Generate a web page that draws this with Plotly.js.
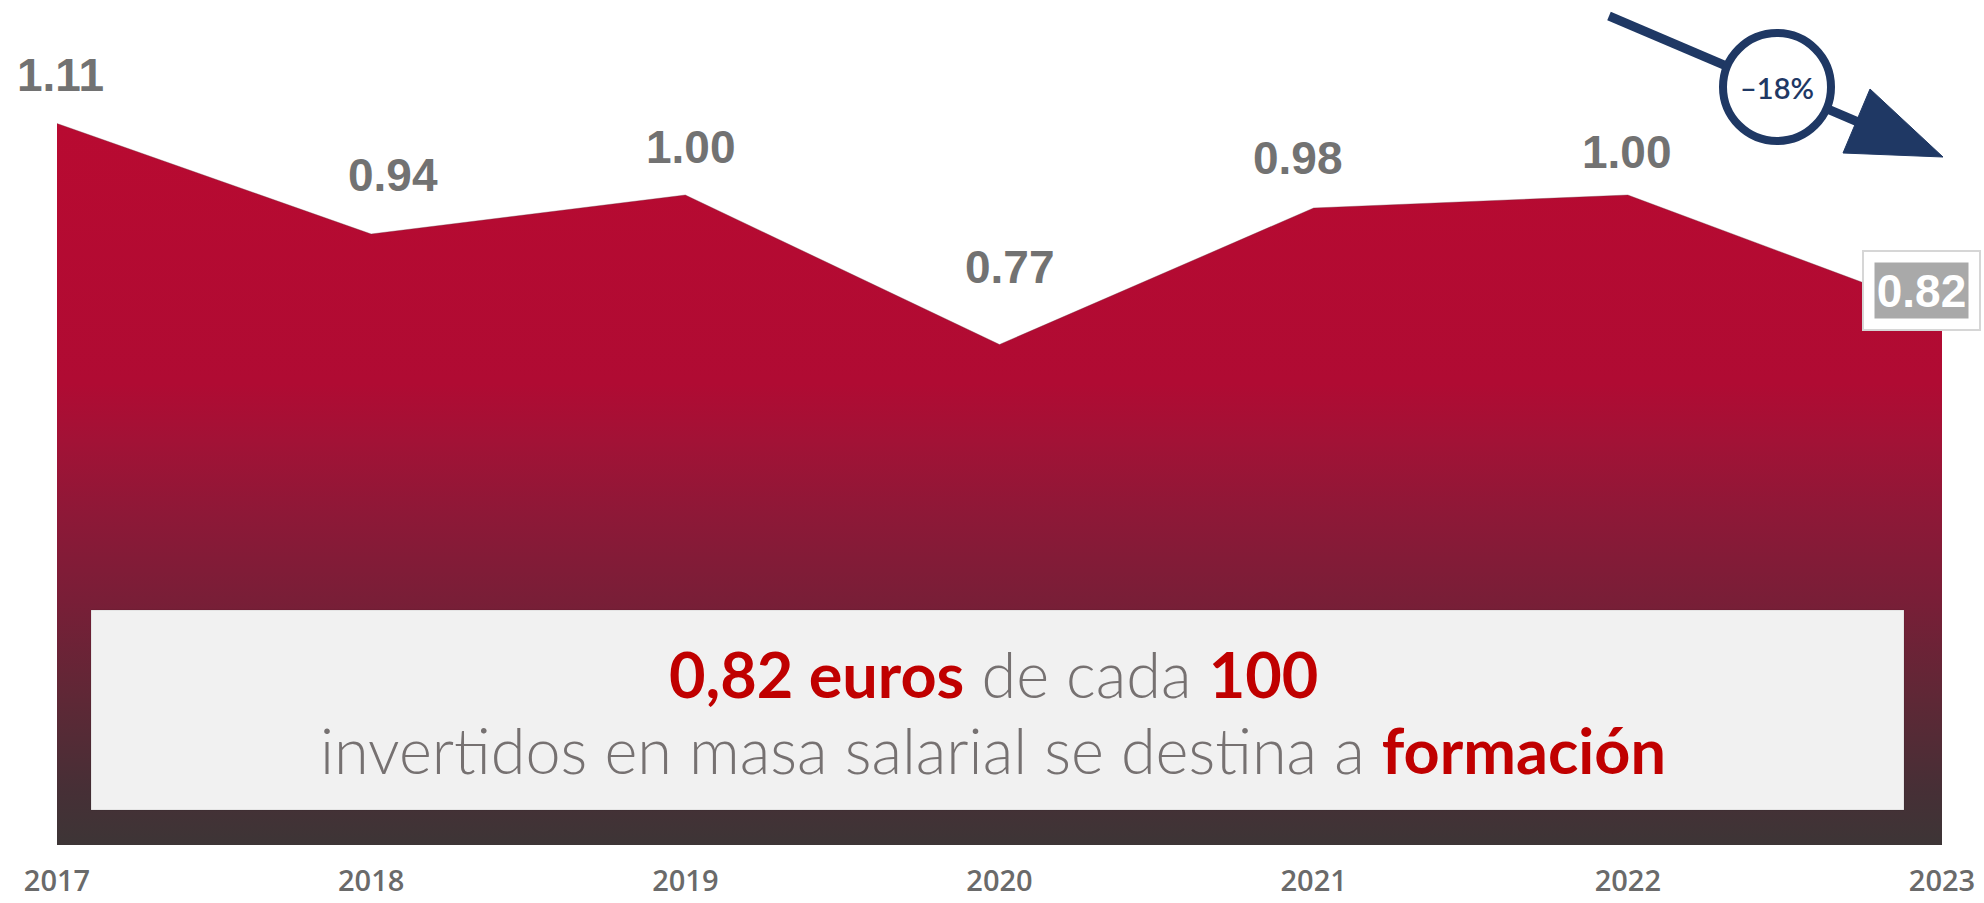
<!DOCTYPE html>
<html>
<head>
<meta charset="utf-8">
<script src="https://cdn.plot.ly/plotly-3.0.1.min.js"></script>
<style>
  html, body { margin: 0; padding: 0; background: #ffffff; }
  #chart { width: 1984px; height: 903px; }
</style>
</head>
<body>
<div id="chart"></div>
<script>
// ---- data ----
const years = [2017, 2018, 2019, 2020, 2021, 2022, 2023];
const values = [1.11, 0.94, 1.00, 0.77, 0.98, 1.00, 0.82];
const valueLabels = ["1.11", "0.94", "1.00", "0.77", "0.98", "1.00", "0.82"];
const yearLabels = ["2017", "2018", "2019", "2020", "2021", "2022", "2023"];
const changeLabel = "\u201318%";
const calloutLine1 = '<b><span style="color:#c00000">0,82 euros</span></b> de cada <b><span style="color:#c00000">100</span></b>';
const calloutLine2 = 'invertidos en masa salarial se destina a <b><span style="color:#c00000">formación</span></b>';

// ---- label placement (pixel offsets from each point) ----
const labelDx = [3, 22, 6, 10, -16, -1];
const labelGap = [33, 43, 32, 62, 34, 27];

// ---- layout geometry ----
const W = 1984, H = 903;
const M = { l: 57, r: 42, t: 0, b: 58 };
const PW = W - M.l - M.r, PH = H - M.t - M.b;
const px = v => (v - M.l) / PW;          // pixel x -> paper
const py = v => (H - M.b - v) / PH;      // pixel y -> paper

const navy = '#1f3864';
const grayText = '#767171';

const trace = {
  x: years,
  y: values,
  type: 'scatter',
  mode: 'lines',
  fill: 'tozeroy',
  line: { color: 'rgba(110,50,60,0.35)', width: 1 },
  fillgradient: {
    type: 'vertical',
    start: 0,
    stop: 1.11,
    colorscale: [
      [0.00, '#3d3536'],
      [0.08, '#472f36'],
      [0.20, '#5e2836'],
      [0.34, '#791e37'],
      [0.46, '#8e1837'],
      [0.56, '#a21236'],
      [0.64, '#b00b33'],
      [1.00, '#b80a31']
    ]
  },
  hoverinfo: 'skip',
  showlegend: false
};

const labelFont = { family: 'Liberation Sans, Arial, sans-serif', size: 46, weight: 700, color: '#727272' };
const annotations = [];
// value labels (all but last)
for (let i = 0; i < years.length - 1; i++) {
  annotations.push({
    x: years[i], y: values[i], xref: 'x', yref: 'y',
    text: valueLabels[i], showarrow: false,
    xanchor: 'center', yanchor: 'middle',
    xshift: labelDx[i], yshift: labelGap[i] + 16,
    font: labelFont
  });
}
// last value label: boxed
const li = years.length - 1;
annotations.push({
  x: years[li], y: values[li], xref: 'x', yref: 'y',
  text: valueLabels[li], showarrow: false,
  xanchor: 'center', yanchor: 'middle', xshift: -21, yshift: 22,
  width: 93, height: 55,
  bgcolor: '#ffffff', bordercolor: '#d6d6d6', borderwidth: 2, borderpad: 11,
  font: Object.assign({}, labelFont, { color: 'rgba(0,0,0,0)' })
});
annotations.push({
  x: years[li], y: values[li], xref: 'x', yref: 'y',
  text: valueLabels[li], showarrow: false,
  xanchor: 'center', yanchor: 'middle', xshift: -21, yshift: 22,
  width: 93, height: 55,
  bgcolor: '#a9a9a9', borderpad: 0,
  font: Object.assign({}, labelFont, { color: '#ffffff' })
});
// callout text (two lines)
annotations.push({
  x: px(993), y: py(673), xref: 'paper', yref: 'paper',
  text: calloutLine1, showarrow: false,
  xanchor: 'center', yanchor: 'middle', align: 'center',
  font: { family: 'Lato, sans-serif', size: 63, weight: 300, color: grayText }
});
annotations.push({
  x: px(993), y: py(749), xref: 'paper', yref: 'paper',
  text: calloutLine2, showarrow: false,
  xanchor: 'center', yanchor: 'middle', align: 'center',
  font: { family: 'Lato, sans-serif', size: 63, weight: 300, color: grayText }
});
// change label in circle
annotations.push({
  x: px(1777), y: py(88), xref: 'paper', yref: 'paper',
  text: changeLabel, showarrow: false,
  xanchor: 'center', yanchor: 'middle',
  font: { family: 'Lato, sans-serif', size: 29, weight: 600, color: navy }
});

const tip = [1943, 157], c1 = [1870, 89], c2 = [1843, 153];
const shapes = [
  { type: 'rect', xref: 'paper', yref: 'paper', layer: 'above',
    x0: px(91), x1: px(1904), y0: py(810), y1: py(610),
    fillcolor: '#f1f1f1', line: { color: 'rgba(0,0,0,0.10)', width: 1 } },
  { type: 'line', xref: 'paper', yref: 'paper', layer: 'above',
    x0: px(1609), y0: py(16), x1: px(1858), y1: py(122),
    line: { color: navy, width: 9 } },
  { type: 'path', xref: 'paper', yref: 'paper', layer: 'above',
    path: `M ${px(tip[0])} ${py(tip[1])} L ${px(c1[0])} ${py(c1[1])} L ${px(c2[0])} ${py(c2[1])} Z`,
    fillcolor: navy, line: { color: navy, width: 1 } },
  { type: 'circle', xref: 'paper', yref: 'paper', layer: 'above',
    x0: px(1777 - 54), x1: px(1777 + 54), y0: py(87 + 54), y1: py(87 - 54),
    fillcolor: '#ffffff', line: { color: navy, width: 8 } }
];

const layout = {
  width: W, height: H,
  margin: M,
  paper_bgcolor: '#ffffff', plot_bgcolor: '#ffffff',
  showlegend: false,
  xaxis: {
    range: [2017, 2023],
    tickmode: 'array', tickvals: years, ticktext: yearLabels,
    showgrid: false, zeroline: false, showline: false, ticks: '',
    ticklabelstandoff: 16,
    tickfont: { family: 'Open Sans, sans-serif', size: 29, weight: 600, color: '#6a6a6a' },
    fixedrange: true
  },
  yaxis: {
    range: [0, PH / 650],
    visible: false, showgrid: false, zeroline: false, fixedrange: true
  },
  annotations: annotations,
  shapes: shapes
};

Plotly.newPlot('chart', [trace], layout, { staticPlot: true, displayModeBar: false });
</script>
</body>
</html>
